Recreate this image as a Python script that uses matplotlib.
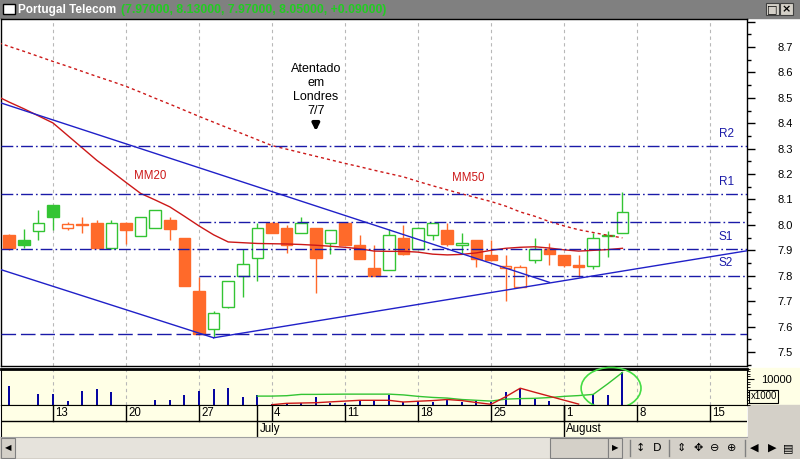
import numpy as np
import pandas as pd
import matplotlib
matplotlib.use('Agg')
import matplotlib.pyplot as plt
from matplotlib.patches import Rectangle, Ellipse
from matplotlib.ticker import FixedLocator, MultipleLocator, FuncFormatter

plt.rcParams['font.family'] = ['Liberation Sans', 'DejaVu Sans']
plt.rcParams['font.size'] = 8

W, H = 800, 459

# Trading days on the time axis (7 Jun only feeds the averages / trendlines)
days = pd.bdate_range('2005-06-07', '2005-08-19')

# Daily candles, 8 Jun - 5 Aug 2005
opens = [7.960, 7.940, 7.977, 8.078, 7.988, 8.004, 8.008, 7.910, 8.008, 7.957,
         7.986, 8.019, 7.947, 7.739, 7.589, 7.678, 7.798, 7.868, 8.006, 7.986,
         7.967, 7.986, 7.927, 8.006, 7.920, 7.829, 7.822, 7.947, 7.907, 7.960,
         7.980, 7.920, 7.940, 7.881, 7.829, 7.756, 7.861, 7.904, 7.881, 7.842,
         7.838, 7.955, 7.970]
highs = [7.965, 7.985, 8.058, 8.078, 8.010, 8.030, 8.019, 8.020, 8.010, 8.030,
         8.058, 8.032, 7.947, 7.796, 7.661, 7.780, 7.904, 8.008, 8.010, 7.999,
         8.030, 7.986, 7.980, 8.006, 7.960, 7.920, 7.982, 7.999, 7.990, 8.006,
         8.006, 7.967, 7.940, 7.940, 7.881, 7.842, 7.947, 7.927, 7.881, 7.881,
         7.967, 7.975, 8.130]
lows = [7.900, 7.910, 7.940, 7.980, 7.980, 7.969, 7.910, 7.905, 7.924, 7.957,
        7.986, 7.940, 7.760, 7.565, 7.559, 7.674, 7.715, 7.780, 7.969, 7.890,
        7.967, 7.733, 7.885, 7.920, 7.864, 7.798, 7.822, 7.880, 7.905, 7.940,
        7.916, 7.888, 7.833, 7.860, 7.701, 7.756, 7.850, 7.842, 7.833, 7.796,
        7.826, 7.872, 7.970]
closes = [7.910, 7.920, 8.006, 8.032, 8.005, 8.000, 7.910, 8.006, 7.980, 8.030,
          8.058, 7.982, 7.760, 7.569, 7.652, 7.779, 7.848, 7.986, 7.969, 7.920,
          8.006, 7.871, 7.980, 7.920, 7.864, 7.798, 7.960, 7.885, 7.986, 8.006,
          7.923, 7.930, 7.864, 7.862, 7.838, 7.836, 7.904, 7.885, 7.842, 7.833,
          7.947, 7.960, 8.050]
prev_close = 7.95  # close of 7 Jun

# Volume (thousands), 8 Jun - 5 Aug
volume = [7500, 0, 4350, 4150, 1600, 5400, 6250, 5000, 0, 0,
          2100, 2100, 4000, 5400, 6250, 6600, 3250, 3750, 400, 400,
          1000, 3100, 750, 750, 1500, 1900, 4000, 1150, 1500, 1150,
          1900, 1150, 1500, 1150, 5250, 6600, 2500, 1500, 0, 0,
          4150, 4000, 12500]
vol_green_start = '2005-07-01'
vol_green = [3500, 3500, 3650, 4150, 4150, 4200, 4250, 4250, 4250, 4250,
             3950, 3400, 3000, 2750, 2200, 1900, 1600, 2350, 2550, 2650,
             2950, 3400, 3700, 4150, 8200, 12500]
vol_red_start = '2005-07-04'
vol_red = [230, 750, 870, 980, 1300, 1600, 1900, 1900, 1900, 1250,
           1550, 1800, 2200, 1800, 1050, 380, 3250, 6500, 4950, 3450,
           1950, 450]

# Moving averages, 7 Jun - 5 Aug
mm20 = [8.511, 8.483, 8.457, 8.429, 8.401, 8.352, 8.303, 8.254, 8.211, 8.167,
        8.124, 8.098, 8.071, 8.034, 7.996, 7.961, 7.933, 7.930, 7.927, 7.926,
        7.925, 7.923, 7.920, 7.916, 7.912, 7.906, 7.897, 7.896, 7.896, 7.893,
        7.885, 7.882, 7.884, 7.890, 7.900, 7.908, 7.912, 7.914, 7.909, 7.902,
        7.897, 7.900, 7.903, 7.908]
mm50 = [8.722, 8.702, 8.683, 8.663, 8.643, 8.624, 8.604, 8.584, 8.565, 8.545,
        8.522, 8.498, 8.475, 8.451, 8.427, 8.404, 8.381, 8.358, 8.335, 8.312,
        8.298, 8.284, 8.270, 8.256, 8.242, 8.229, 8.215, 8.202, 8.189, 8.171,
        8.154, 8.138, 8.122, 8.107, 8.092, 8.074, 8.051, 8.034, 8.013, 7.996,
        7.981, 7.970, 7.959, 7.949]

# Support / resistance levels
levels = [8.31, 8.12, 8.01, 7.905, 7.80, 7.57]
level_from = [None, None, '2005-06-27', None, '2005-06-27', None]
level_names = ['R2', 'R1', '', 'S1', 'S2', '']

# Trendlines: (date, price) -> (date, price)
trendlines = [(('2005-06-07', 8.488), ('2005-07-29', 7.774)),
              (('2005-06-07', 7.832), ('2005-06-28', 7.556)),
              (('2005-06-28', 7.556), ('2005-08-19', 7.912))]

up_col = '#33c433'
down_col = '#ff6a2a'
line_blue = '#1a1aa8'
ma_red = '#cc1818'
pale = '#ffffe6'


def box(x0, y0, x1, y1):
    # pixel box (top-left origin) -> figure fraction rect
    return [x0 / W, 1 - y1 / H, (x1 - x0) / W, (y1 - y0) / H]


def idx(d):
    return days.get_loc(pd.Timestamp(d))


xlim = (0.438, 51.53)
mondays = [i for i, d in enumerate(days) if d.weekday() == 0]
month_starts = [i for i in range(1, len(days)) if days[i].month != days[i - 1].month]

fig = plt.figure(figsize=(W / 100, H / 100), dpi=100)
fig.patch.set_facecolor('white')

# window chrome in pixel coords
chrome = fig.add_axes([0, 0, 1, 1], zorder=-1)
chrome.set_xlim(0, W)
chrome.set_ylim(H, 0)
chrome.axis('off')
chrome.add_patch(Rectangle((0, 0), W, 18, color='#808080'))
chrome.add_patch(Rectangle((3, 4), 12, 10, facecolor='white', edgecolor='black', lw=1))
chrome.text(18, 9.5, 'Portugal Telecom', color='white', fontweight='bold', fontsize=8.5, va='center')
title_vals = '({:.5f}, {:.5f}, {:.5f}, {:.5f}, {:+.5f})'.format(
    opens[-1], highs[-1], lows[-1], closes[-1], closes[-1] - closes[-2])
chrome.text(121, 9.5, title_vals, color='#22cc22', fontweight='bold', fontsize=8.8, va='center')
for bx, glyph in [(766, '□'), (780, '×')]:
    chrome.add_patch(Rectangle((bx, 3), 13, 12, facecolor='#d4d0c8', edgecolor='#404040', lw=0.8))
    chrome.text(bx + 6.5, 9.5, glyph, ha='center', va='center', fontsize=8, fontweight='bold',
                family='DejaVu Sans')
chrome.add_patch(Rectangle((747, 368), W - 747, 37.3, color=pale))
chrome.add_patch(Rectangle((748, 405.3), W - 748, 31.7, color='#d4d0c8'))
chrome.add_patch(Rectangle((0, 437), W, H - 437, color='#d4d0c8'))
chrome.add_patch(Rectangle((15, 438), 535, 20, facecolor='#e6e3dc', edgecolor='none', hatch='....'))
chrome.add_patch(Rectangle((1, 438), 14, 20, facecolor='#d4d0c8', edgecolor='#808080', lw=0.8))
chrome.add_patch(Rectangle((550, 438), 58, 20, facecolor='#d4d0c8', edgecolor='#808080', lw=0.8))
chrome.add_patch(Rectangle((608, 438), 14, 20, facecolor='#d4d0c8', edgecolor='#808080', lw=0.8))
chrome.text(8, 448, '◀', ha='center', va='center', fontsize=6, family='DejaVu Sans')
chrome.text(615, 448, '▶', ha='center', va='center', fontsize=6, family='DejaVu Sans')
for sx in [630, 669, 745]:
    chrome.plot([sx, sx], [440, 456], color='#808080', lw=1)
for tx, glyph in [(640, '↕'), (657, 'D'), (681, '⇕'), (698, '✥'), (715, '⊖'),
                  (732, '⊕'), (754, '◀'), (772, '▶'), (788, '▤')]:
    chrome.text(tx, 448, glyph, ha='center', va='center', fontsize=8, family='DejaVu Sans')

# price pane
ax = fig.add_axes(box(1, 19, 747, 366))
ax.set_xlim(*xlim)
ax.set_ylim(7.445, 8.810)
for i in mondays:
    ax.axvline(i, color='#b8b8b8', lw=0.8, dashes=(3, 3), zorder=0)

cx = np.arange(1, len(opens) + 1)
prev = [prev_close] + closes[:-1]
for xi, o, h, l, c, pc in zip(cx, opens, highs, lows, closes, prev):
    col = up_col if c >= pc else down_col
    ax.vlines(xi, l, h, color=col, lw=1, zorder=2)
    lo, hi = min(o, c), max(o, c)
    face = 'white' if c > o else col
    ax.add_patch(Rectangle((xi - 0.4, lo), 0.8, max(hi - lo, 0.002),
                           facecolor=face, edgecolor=col, lw=1, zorder=3))

mx = np.arange(len(mm20))
ax.plot(mx, mm20, color=ma_red, lw=1, zorder=4)
ax.plot(mx, mm50, color=ma_red, lw=1, dashes=(2.2, 2.2), zorder=4)
ax.text(10.64, 8.192, 'MM20', color=ma_red, ha='center', va='center', fontsize=8.3)
ax.text(32.42, 8.185, 'MM50', color=ma_red, ha='center', va='center', fontsize=8.3)

for lev, start, name in zip(levels, level_from, level_names):
    x0 = xlim[0] if start is None else idx(start)
    if lev < 7.6:
        ax.hlines(lev, x0, xlim[1], color=line_blue, lw=1, linestyles=(0, (10.5, 3.5)), zorder=4)
    else:
        ax.hlines(lev, x0, xlim[1], color=line_blue, lw=1, linestyles=(0, (8.5, 2.2, 1.2, 2.2)), zorder=4)
    if name:
        ax.annotate(name, (50.1, lev), xytext=(0, 9), textcoords='offset points',
                    ha='center', va='center', color=line_blue, fontsize=8.5)

for (d0, p0), (d1, p1) in trendlines:
    ax.plot([idx(d0), idx(d1)], [p0, p1], color='#2020c8', lw=1, zorder=4)

ax.text(idx('2005-07-07'), 8.531, 'Atentado\nem\nLondres\n7/7', ha='center', va='center',
        fontsize=9, linespacing=1.22)
ax.annotate('', xy=(idx('2005-07-07'), 8.358), xytext=(idx('2005-07-07'), 8.415),
            arrowprops=dict(arrowstyle='-|>', color='black', lw=2.5, mutation_scale=10))

ax.yaxis.tick_right()
ax.yaxis.set_major_locator(FixedLocator(np.round(np.arange(7.5, 8.85, 0.1), 2)))
ax.yaxis.set_major_formatter(FuncFormatter(lambda v, p: '' if v > 8.75 else '%.1f' % v))
ax.yaxis.set_minor_locator(MultipleLocator(0.05))
ax.tick_params(axis='y', which='major', length=5.8, width=1, pad=27, labelsize=8)
ax.tick_params(axis='y', which='minor', length=3, width=1)
plt.setp(ax.get_yticklabels(), ha='right')
ax.set_xticks([])
for s in ax.spines.values():
    s.set_linewidth(1)

# volume pane
axv = fig.add_axes(box(1, 368.5, 747, 405.3))
axv.set_facecolor(pale)
axv.set_xlim(*xlim)
axv.set_ylim(0, 14000)
for i in mondays:
    axv.axvline(i, color='#b8b8b8', lw=0.8, dashes=(3, 3), zorder=0)
axv.vlines(cx, 0, volume, color='#0000a0', lw=1.4, zorder=2)
g0 = idx(vol_green_start)
axv.plot(np.arange(g0, g0 + len(vol_green)), vol_green, color='#33c433', lw=1, zorder=3)
r0 = idx(vol_red_start)
axv.plot(np.arange(r0, r0 + len(vol_red)), vol_red, color='#cc1818', lw=1, zorder=3)
axv.add_patch(Ellipse((42.22, 6500), 4.1, 15800, facecolor='none', edgecolor='#44dd44',
                      lw=1.2, clip_on=False, zorder=5))
axv.yaxis.tick_right()
axv.set_yticks([5000, 10000])
axv.set_yticklabels(['', '10000'])
axv.yaxis.set_minor_locator(MultipleLocator(1000))
axv.tick_params(axis='y', which='major', length=5, pad=27, labelsize=8)
axv.tick_params(axis='y', which='minor', length=2.5)
plt.setp(axv.get_yticklabels(), ha='right')
axv.set_xticks([])
axv.spines['top'].set_linewidth(2)
axv.text(1.0225, 0.25, 'x1000', transform=axv.transAxes, ha='center', va='center', fontsize=7,
         bbox=dict(boxstyle='square,pad=0.15', facecolor=pale, edgecolor='black', lw=0.8),
         clip_on=False, zorder=6)

# date axis
axd = fig.add_axes(box(1, 405.3, 747, 436.7))
axd.set_facecolor(pale)
axd.set_xlim(*xlim)
axd.set_ylim(2, 0)
axd.axhline(1, color='black', lw=1)
for i in mondays:
    axd.plot([i, i], [0, 1], color='black', lw=1)
    axd.text(i + 0.14, 0.5, str(days[i].day), va='center', ha='left', fontsize=8.3)
for i in month_starts:
    axd.plot([i, i], [0, 2], color='black', lw=1)
    axd.text(i + 0.14, 1.5, days[i].strftime('%B'), va='center', ha='left', fontsize=8.3)
axd.set_xticks([])
axd.set_yticks([])
axd.spines['right'].set_visible(False)
axd.spines['bottom'].set_color('#a0a0a0')

fig.savefig('out.png', dpi=100)
